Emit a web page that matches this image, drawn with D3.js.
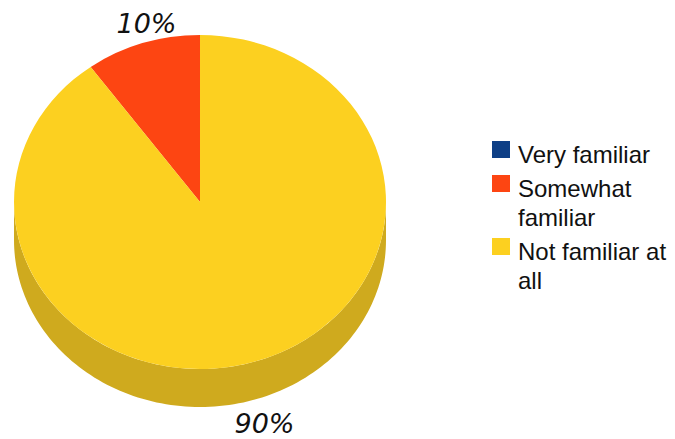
<!DOCTYPE html>
<html>
<head>
<meta charset="utf-8">
<script src="https://cdn.jsdelivr.net/npm/d3@7"></script>
<style>
  body { margin: 0; background: #fff; }
  svg { display: block; }
</style>
</head>
<body>
<svg id="chart" width="675" height="439"></svg>
<script>
// Familiarity shares (percent)
const categories = ["Very familiar", "Somewhat familiar", "Not familiar at all"];
const legendLines = [["Very familiar"], ["Somewhat", "familiar"], ["Not familiar at", "all"]];
const shares = [0, 10, 90];
const topColors = ["#0E3F86", "#FD4512", "#FCD020"];
const sideColors = ["#0A2F66", "#C9380E", "#CFAA1E"];

const svg = d3.select("#chart");

// Tilted pie geometry
const cx = 200, cy = 202, rx = 186, ry = 167, depth = 38;

// Slices run counter-clockwise from 12 o'clock
const pie = d3.pie().sort(null).startAngle(0).endAngle(-2 * Math.PI).value(d => d);
const slices = pie(shares).map((s, i) => ({ ...s, i }));

const pt = (a, dy = 0) => [cx + rx * Math.sin(a), cy - ry * Math.cos(a) + dy];

// Side wall: only the front half (cos < 0) of each slice is visible
const sideG = svg.append("g");
const line = d3.line();
slices.forEach(s => {
  if (s.value <= 0) return;
  const lo = Math.min(s.startAngle, s.endAngle), hi = Math.max(s.startAngle, s.endAngle);
  for (let k = -2; k <= 1; k++) {
    const f0 = Math.PI / 2 + 2 * k * Math.PI, f1 = 3 * Math.PI / 2 + 2 * k * Math.PI;
    const a0 = Math.max(lo, f0), a1 = Math.min(hi, f1);
    if (a1 <= a0) continue;
    const n = 120;
    const angs = d3.range(n + 1).map(j => a0 + (a1 - a0) * j / n);
    const pts = angs.map(a => pt(a)).concat(angs.slice().reverse().map(a => pt(a, depth)));
    sideG.append("path")
      .attr("d", line(pts) + "Z")
      .attr("fill", sideColors[s.i]);
  }
});

// Top face: circular arcs squashed into an ellipse
const arc = d3.arc().innerRadius(0).outerRadius(rx);
svg.append("g")
  .attr("transform", `translate(${cx},${cy}) scale(1,${ry / rx})`)
  .selectAll("path")
  .data(slices.filter(s => s.value > 0))
  .join("path")
  .attr("d", arc)
  .attr("fill", d => topColors[d.i]);

// Percentage labels just outside the rim
svg.append("g")
  .selectAll("text")
  .data(slices.filter(s => s.value > 0))
  .join("text")
  .each(function (d) {
    const mid = (d.startAngle + d.endAngle) / 2;
    const front = Math.cos(mid) < 0;
    const [x, y] = pt(mid, front ? depth : 0);
    d3.select(this)
      .attr("x", x + (front ? 7 : 4))
      .attr("y", front ? y + 34 : y - 10);
  })
  .attr("text-anchor", "middle")
  .attr("font-family", "'DejaVu Sans', Verdana, sans-serif")
  .attr("font-style", "italic")
  .attr("font-weight", 200)
  .attr("font-size", 27)
  .attr("fill", "#111")
  .text(d => d3.format(".0f")(d.value) + "%");

// Legend
const legend = svg.append("g").attr("transform", "translate(492,0)");
const lineH = 29, itemGap = 5;
let base = 163;
categories.forEach((c, i) => {
  const g = legend.append("g");
  g.append("rect")
    .attr("x", 0).attr("y", base - 22)
    .attr("width", 18).attr("height", 17)
    .attr("fill", topColors[i]);
  legendLines[i].forEach((t, j) => {
    g.append("text")
      .attr("x", 26)
      .attr("y", base + j * lineH)
      .attr("font-family", "'Liberation Sans', Arial, sans-serif")
      .attr("font-size", 24)
      .attr("fill", "#111")
      .text(t);
  });
  base += legendLines[i].length * lineH + itemGap;
});
</script>
</body>
</html>
